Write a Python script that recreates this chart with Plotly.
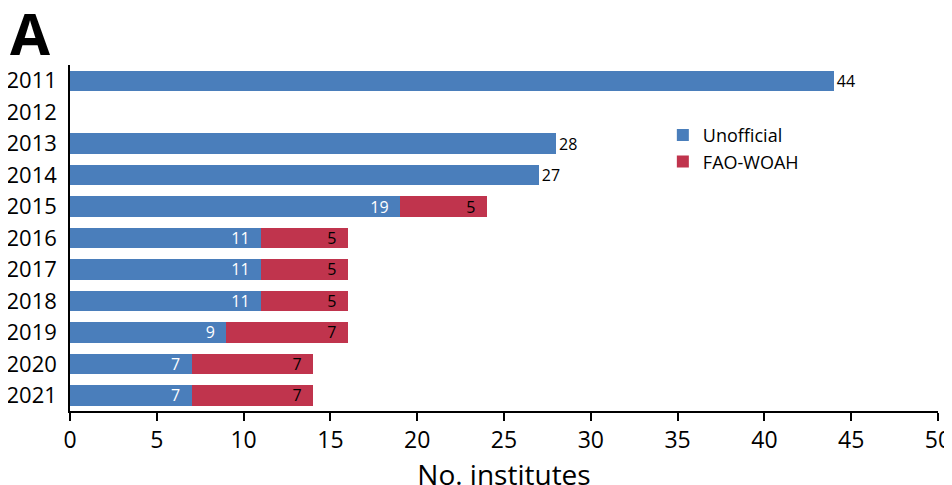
import plotly.graph_objects as go

years = ["2011", "2012", "2013", "2014", "2015", "2016", "2017", "2018", "2019", "2020", "2021"]
unofficial = [44, None, 28, 27, 19, 11, 11, 11, 9, 7, 7]
fao_woah = [None, None, None, None, 5, 5, 5, 5, 7, 7, 7]
x_ticks = [0, 5, 10, 15, 20, 25, 30, 35, 40, 45, 50]

blue = "#4A7EBB"
red = "#C0344D"
font_family = "Open Sans, Liberation Sans, sans-serif"
pad = "\u00a0\u00a0"

unoff_pos = ["outside" if (v is not None and f is None) else "inside" for v, f in zip(unofficial, fao_woah)]
unoff_text = ["" if v is None else (str(v) if p == "outside" else str(v) + pad)
              for v, p in zip(unofficial, unoff_pos)]
fao_text = ["" if v is None else str(v) + pad for v in fao_woah]

fig = go.Figure()
fig.add_trace(go.Bar(
    y=years, x=unofficial, orientation="h", name="Unofficial",
    marker=dict(color=blue, line=dict(width=0)),
    text=unoff_text, textposition=unoff_pos, insidetextanchor="end", textangle=0,
    constraintext="none",
    insidetextfont=dict(color="white", size=16, family=font_family),
    outsidetextfont=dict(color="black", size=16, family=font_family),
    cliponaxis=False, width=0.65,
))
fig.add_trace(go.Bar(
    y=years, x=fao_woah, orientation="h", name="FAO-WOAH",
    marker=dict(color=red, line=dict(width=0)),
    text=fao_text, textposition="inside", insidetextanchor="end", textangle=0,
    constraintext="none",
    insidetextfont=dict(color="black", size=16, family=font_family),
    width=0.65,
))

fig.update_layout(
    width=952, height=485,
    barmode="stack",
    plot_bgcolor="white", paper_bgcolor="white",
    margin=dict(l=62, r=22, t=57, b=82),
    font=dict(family=font_family, color="black"),
    showlegend=True,
    legend=dict(x=0.683, y=0.85, xanchor="left", yanchor="top", traceorder="normal",
                font=dict(size=18), bgcolor="rgba(0,0,0,0)",
                itemwidth=30, tracegroupgap=0),
    uniformtext=dict(mode=False),
    annotations=[dict(text="<b>A</b>", xref="paper", yref="paper",
                      x=0, y=1, xshift=-62, yshift=74, xanchor="left", yanchor="top",
                      showarrow=False, font=dict(size=58, family=font_family, color="black"))],
)
fig.update_xaxes(
    range=[0, 50], tickvals=x_ticks, ticks="outside", ticklen=8, tickwidth=1.5,
    tickcolor="black", showline=True, linecolor="black", linewidth=1.5,
    showgrid=False, zeroline=False, tickfont=dict(size=23), automargin=False,
    title=dict(text="No. institutes", font=dict(size=28), standoff=6),
)
fig.update_yaxes(
    autorange="reversed", showline=True, linecolor="black", linewidth=1.5,
    showgrid=False, ticks="", tickfont=dict(size=22), ticklabelstandoff=7,
    automargin=False,
)

fig.write_html("out.html")
